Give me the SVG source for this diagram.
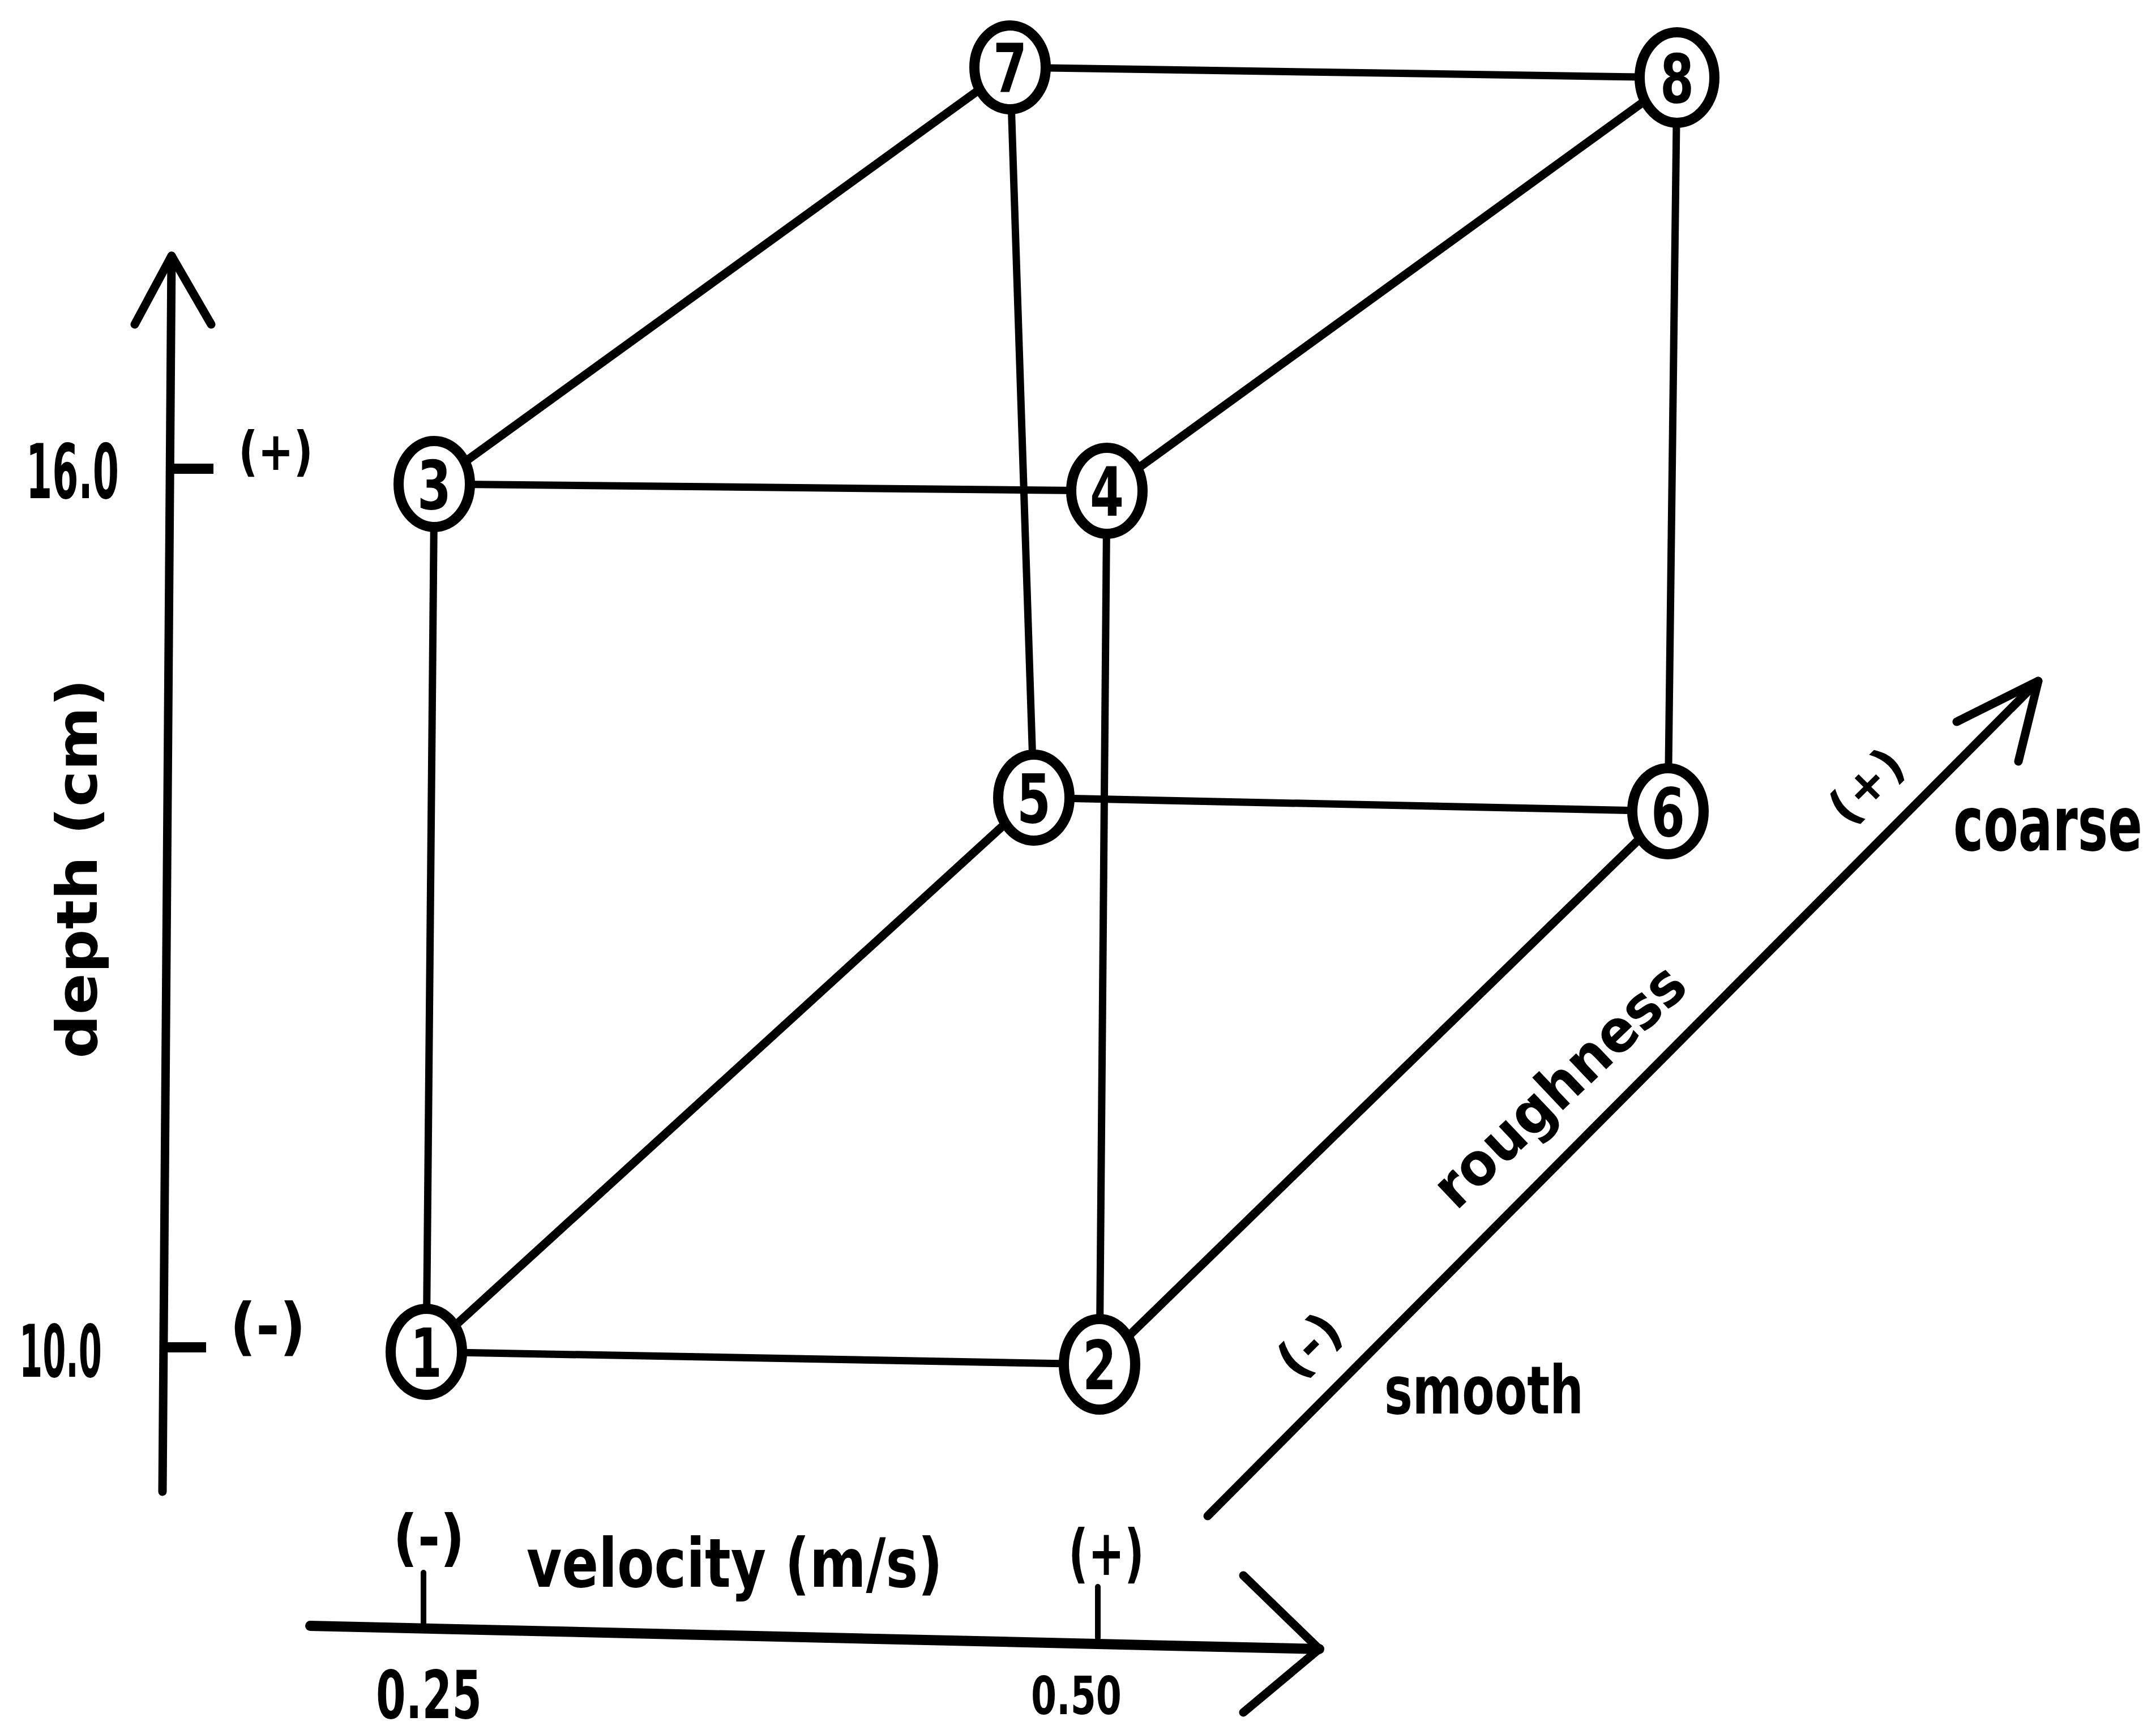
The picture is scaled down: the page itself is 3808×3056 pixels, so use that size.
<svg xmlns="http://www.w3.org/2000/svg" width="3808" height="3056" viewBox="0 0 3808 3056">
<style>
.edge{stroke:#000;stroke-width:13;stroke-linecap:round;fill:none}
.diag{stroke-width:15}
.axis{stroke:#000;stroke-width:15;stroke-linecap:round;stroke-linejoin:round;fill:none}
.tick{stroke:#000;stroke-width:18;stroke-linecap:butt;fill:none}
.node{fill:#fff;stroke:#000;stroke-width:18}
.num{font-family:"DejaVu Sans","Liberation Sans",sans-serif;font-weight:bold;font-size:120px;text-anchor:middle;fill:#000}
.lbl{font-family:"DejaVu Sans","Liberation Sans",sans-serif;font-weight:bold;fill:#000}
</style>
<rect width="3808" height="3056" fill="#fff"/>
<g id="connectors">
<line class="edge" x1="753" y1="2388" x2="1942" y2="2410"/>
<line class="edge" x1="767" y1="855" x2="1955" y2="867"/>
<line class="edge" x1="1826" y1="1409" x2="2946" y2="1433"/>
<line class="edge" x1="1784" y1="119" x2="2962" y2="137"/>
<line class="edge" x1="753" y1="2388" x2="767" y2="855"/>
<line class="edge" x1="1942" y1="2410" x2="1955" y2="867"/>
<line class="edge" x1="1826" y1="1409" x2="1784" y2="119"/>
<line class="edge" x1="2946" y1="1433" x2="2962" y2="137"/>
<line class="edge diag" x1="753" y1="2388" x2="1826" y2="1409"/>
<line class="edge diag" x1="1942" y1="2410" x2="2946" y2="1433"/>
<line class="edge diag" x1="767" y1="855" x2="1784" y2="119"/>
<line class="edge diag" x1="1955" y1="867" x2="2962" y2="137"/>
</g>
<g id="node1"><ellipse class="node" cx="753" cy="2388" rx="63" ry="76"/><text class="num" x="753" y="2432" textLength="55" lengthAdjust="spacingAndGlyphs">1</text></g>
<g id="node2"><ellipse class="node" cx="1942" cy="2410" rx="63" ry="80"/><text class="num" x="1942" y="2454" textLength="60" lengthAdjust="spacingAndGlyphs">2</text></g>
<g id="node3"><ellipse class="node" cx="767" cy="855" rx="63" ry="76"/><text class="num" x="767" y="899" textLength="60" lengthAdjust="spacingAndGlyphs">3</text></g>
<g id="node4"><ellipse class="node" cx="1955" cy="867" rx="63" ry="76"/><text class="num" x="1955" y="911" textLength="60" lengthAdjust="spacingAndGlyphs">4</text></g>
<g id="node5"><ellipse class="node" cx="1826" cy="1409" rx="63" ry="76"/><text class="num" x="1826" y="1453" textLength="60" lengthAdjust="spacingAndGlyphs">5</text></g>
<g id="node6"><ellipse class="node" cx="2946" cy="1433" rx="63" ry="76"/><text class="num" x="2946" y="1477" textLength="60" lengthAdjust="spacingAndGlyphs">6</text></g>
<g id="node7"><ellipse class="node" cx="1784" cy="119" rx="63" ry="74"/><text class="num" x="1784" y="163" textLength="60" lengthAdjust="spacingAndGlyphs">7</text></g>
<g id="node8"><ellipse class="node" cx="2962" cy="137" rx="66" ry="80"/><text class="num" x="2962" y="181" textLength="60" lengthAdjust="spacingAndGlyphs">8</text></g>
<g id="depth-axis">
<line class="axis" x1="287" y1="2635" x2="303" y2="452"/>
<polyline class="axis" points="238,573 303,452 373,573"/>
<line class="tick" x1="302" y1="828" x2="377" y2="828"/>
<line class="tick" x1="291" y1="2380" x2="364" y2="2380"/>
<text class="lbl" x="46" y="880" font-size="133" textLength="164" lengthAdjust="spacingAndGlyphs">16.0</text>
<text class="lbl" x="34" y="2432" font-size="129" textLength="146" lengthAdjust="spacingAndGlyphs">10.0</text>
<text class="lbl" x="421" y="830" font-size="94" textLength="132" lengthAdjust="spacingAndGlyphs">(+)</text>
<text class="lbl" x="406" y="2381" font-size="110" textLength="134" lengthAdjust="spacingAndGlyphs">(-)</text>
<text class="lbl" transform="translate(171,1870) rotate(-90)" font-size="100" textLength="671" lengthAdjust="spacingAndGlyphs">depth (cm)</text>
</g>
<g id="velocity-axis">
<line class="axis" x1="548" y1="2872" x2="2330" y2="2913" style="stroke-width:18"/>
<polyline class="axis" points="2196,2783 2330,2913 2196,3025"/>
<line class="axis" x1="748" y1="2778" x2="748" y2="2867" style="stroke-width:10"/>
<line class="axis" x1="1939" y1="2803" x2="1939" y2="2893" style="stroke-width:10"/>
<text class="lbl" x="694" y="2754" font-size="108" textLength="127" lengthAdjust="spacingAndGlyphs">(-)</text>
<text class="lbl" x="1887" y="2782" font-size="112" textLength="134" lengthAdjust="spacingAndGlyphs">(+)</text>
<text class="lbl" x="930" y="2803" font-size="120" textLength="735" lengthAdjust="spacingAndGlyphs">velocity (m/s)</text>
<text class="lbl" x="664" y="3035" font-size="117" textLength="187" lengthAdjust="spacingAndGlyphs">0.25</text>
<text class="lbl" x="1821" y="3028" font-size="92" textLength="160" lengthAdjust="spacingAndGlyphs">0.50</text>
</g>
<g id="roughness-axis">
<line class="axis" x1="2133" y1="2678" x2="3600" y2="1203"/>
<polyline class="axis" points="3456,1275 3600,1203 3565,1345"/>
<text class="lbl" transform="translate(2312,2376) rotate(-45)" font-size="90" text-anchor="middle" dominant-baseline="central">(-)</text>
<text class="lbl" transform="translate(3296,1388) rotate(-45)" font-size="85" text-anchor="middle" dominant-baseline="central">(+)</text>
<text class="lbl" x="2445" y="2497" font-size="117" textLength="352" lengthAdjust="spacingAndGlyphs">smooth</text>
<text class="lbl" transform="translate(3450,1502) scale(1,1.4)" x="0" y="0" font-size="96" textLength="334" lengthAdjust="spacingAndGlyphs">coarse</text>
<text class="lbl" transform="translate(2572,2140) rotate(-43.5)" font-size="104" textLength="570" lengthAdjust="spacingAndGlyphs">roughness</text>
</g>
</svg>
